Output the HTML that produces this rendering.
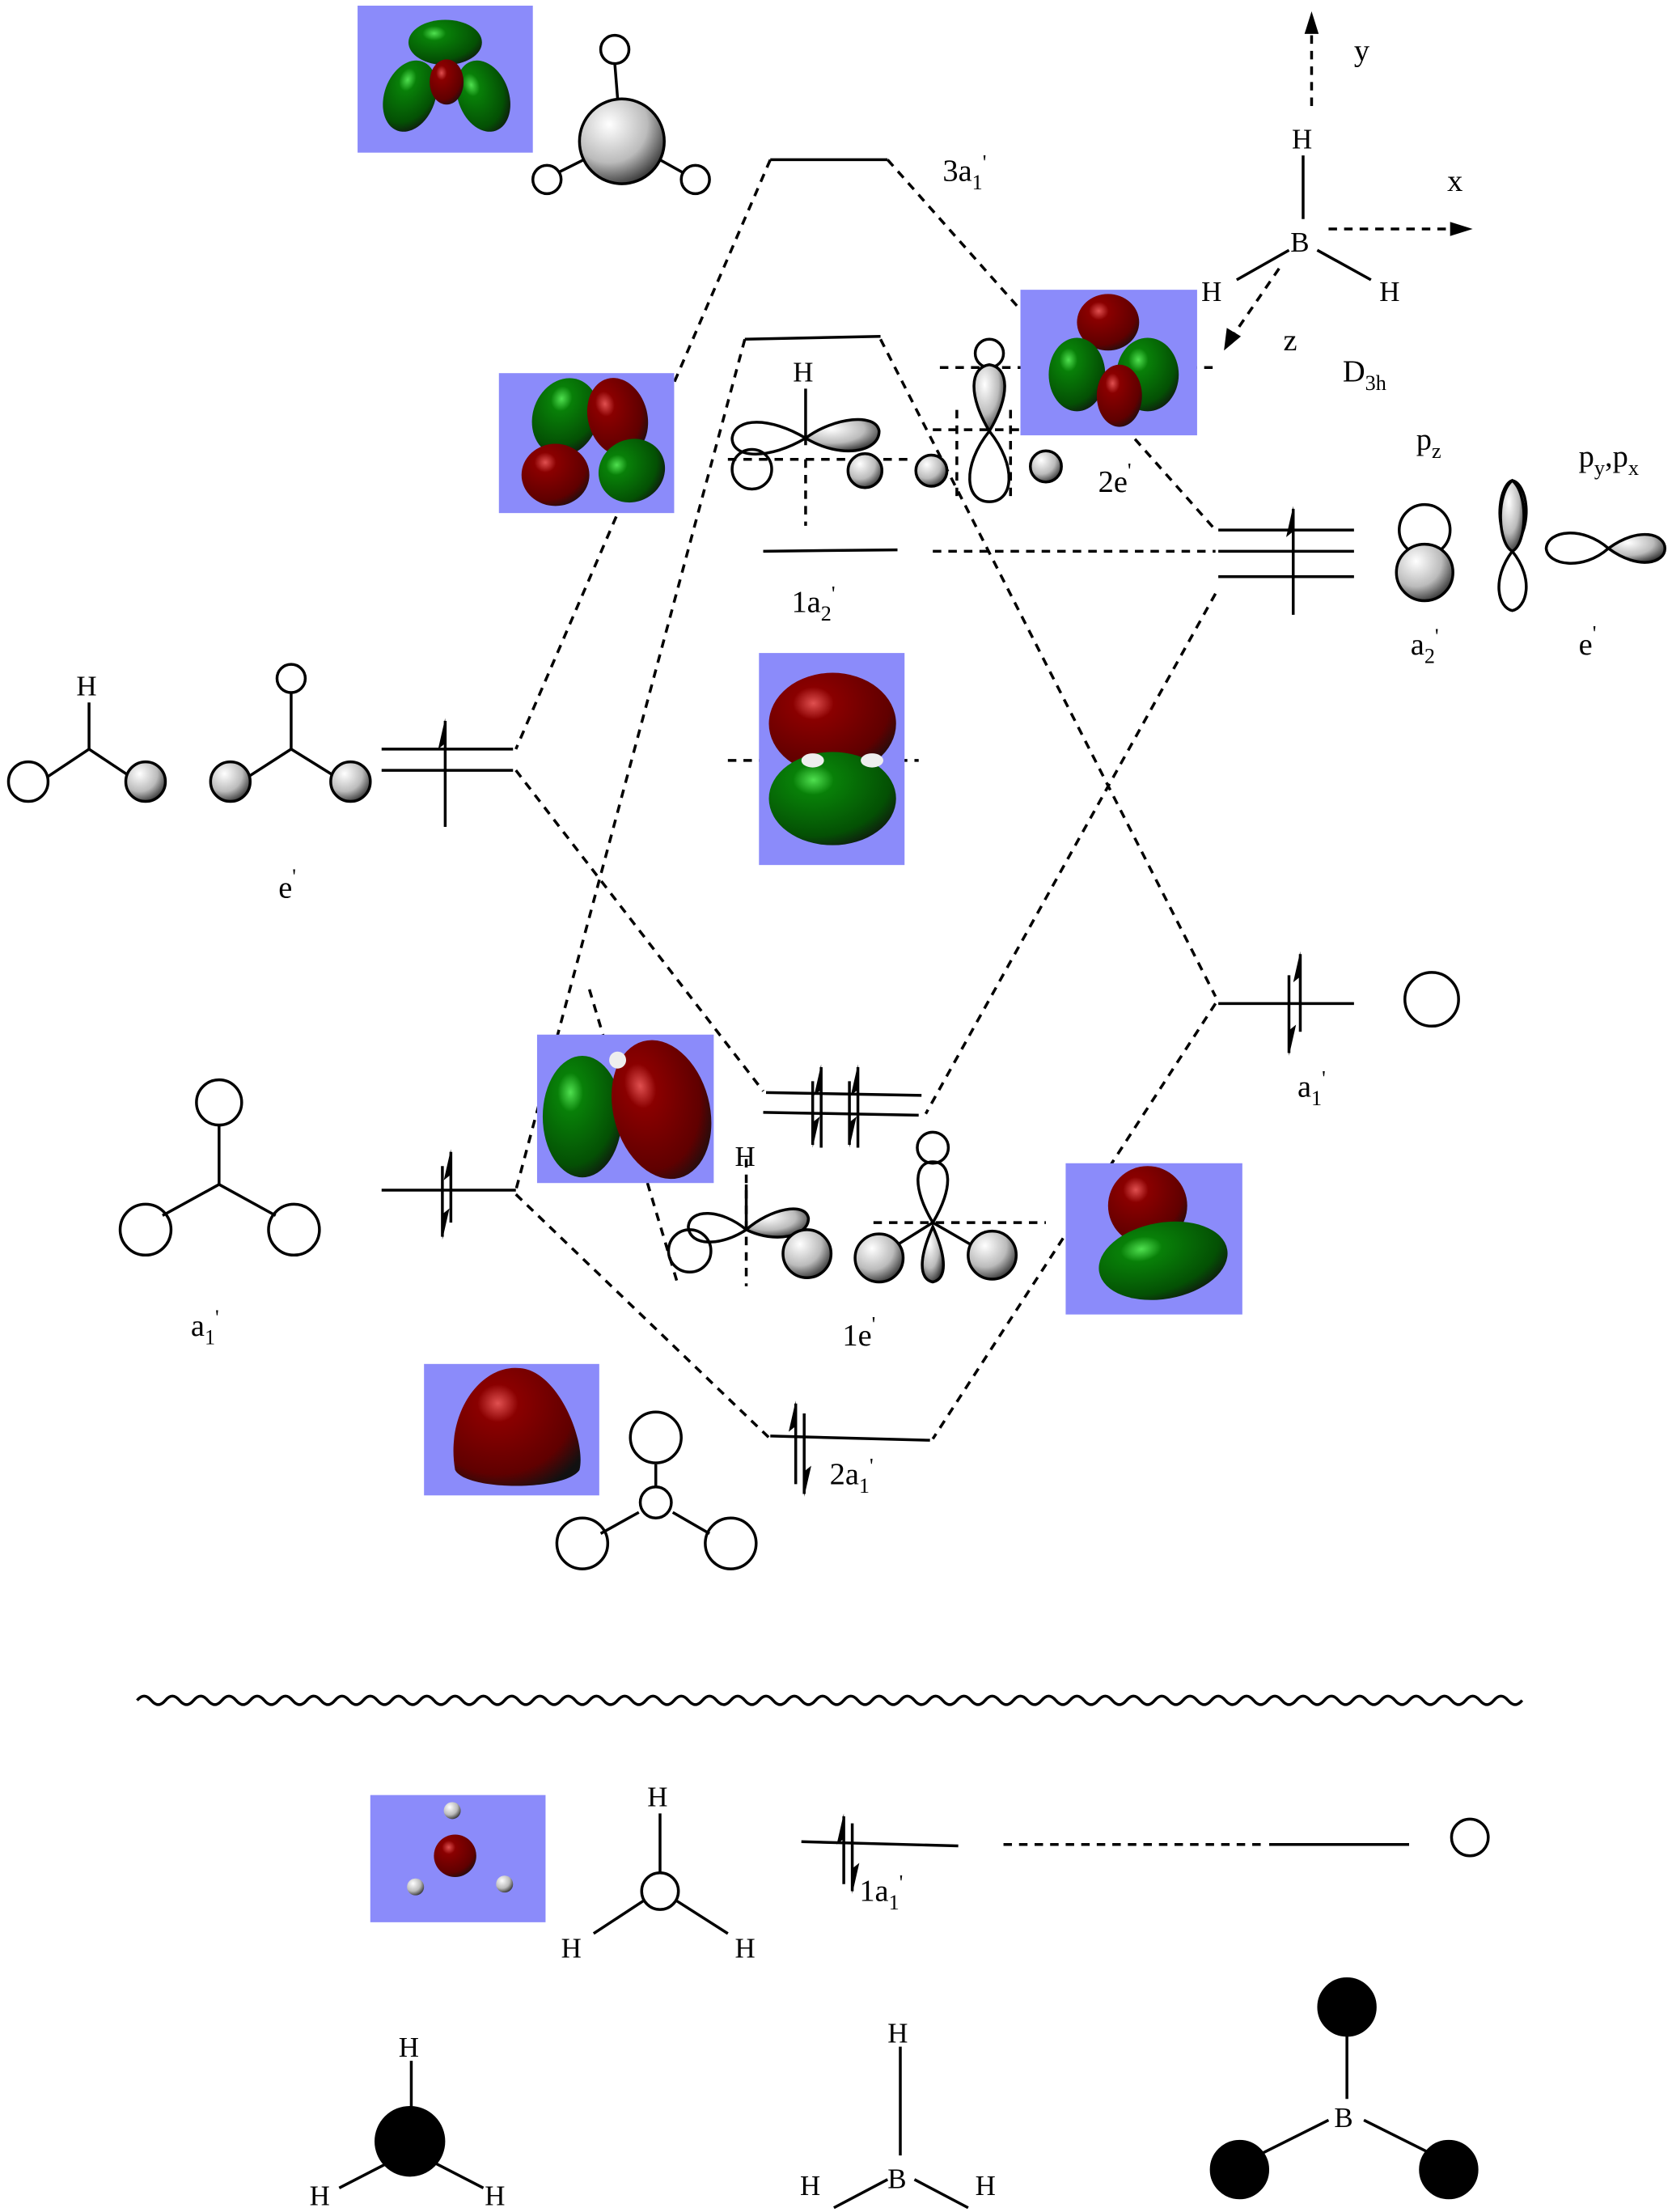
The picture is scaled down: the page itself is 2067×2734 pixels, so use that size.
<!DOCTYPE html>
<html><head><meta charset="utf-8"><style>
html,body{margin:0;padding:0;background:#fff;}
svg{display:block;}
text{font-family:"Liberation Serif",serif;fill:#000;}
.s{font-family:"Liberation Sans",sans-serif;}
</style></head><body>
<svg width="2067" height="2734" viewBox="0 0 1183 1565" preserveAspectRatio="none" xmlns="http://www.w3.org/2000/svg">
<defs>
<radialGradient id="wg" cx="0.35" cy="0.3" r="0.75"><stop offset="0" stop-color="#fff"/><stop offset="0.6" stop-color="#bbb"/><stop offset="1" stop-color="#333"/></radialGradient>
<radialGradient id="rg" cx="0.35" cy="0.3" r="0.8"><stop offset="0" stop-color="#e05050"/><stop offset="0.2" stop-color="#8a0000"/><stop offset="0.75" stop-color="#600000"/><stop offset="1" stop-color="#111"/></radialGradient>
<radialGradient id="gg" cx="0.35" cy="0.3" r="0.8"><stop offset="0" stop-color="#50e050"/><stop offset="0.2" stop-color="#088008"/><stop offset="0.75" stop-color="#045004"/><stop offset="1" stop-color="#111"/></radialGradient>
</defs>
<g fill="none" stroke="#000" stroke-width="2" stroke-dasharray="6,5">
<line x1="545" y1="113" x2="365" y2="530"/>
<line x1="628" y1="113" x2="860" y2="375"/>
<line x1="527" y1="240" x2="365" y2="842"/>
<line x1="623" y1="240" x2="860" y2="705"/>
<line x1="365" y1="545" x2="540" y2="772"/>
<line x1="860" y1="420" x2="655" y2="788"/>
<line x1="365" y1="845" x2="545" y2="1018"/>
<line x1="860" y1="710" x2="660" y2="1018"/>
<line x1="660" y1="390" x2="860" y2="390"/>
<line x1="417" y1="700" x2="480" y2="910"/>
<line x1="710" y1="1305" x2="895" y2="1305"/>
<line x1="928" y1="75" x2="928" y2="20"/>
<line x1="940" y1="162" x2="1030" y2="162"/>
<line x1="905" y1="190" x2="872" y2="238"/>
<line x1="515" y1="325" x2="645" y2="325"/>
<line x1="570" y1="325" x2="570" y2="372"/>
<line x1="665" y1="260" x2="860" y2="260"/>
<line x1="660" y1="304" x2="760" y2="304"/>
<line x1="677" y1="290" x2="677" y2="355"/>
<line x1="715" y1="290" x2="715" y2="355"/>
<line x1="515" y1="538" x2="650" y2="538"/>
<line x1="528" y1="820" x2="528" y2="910"/>
<line x1="618" y1="865" x2="740" y2="865"/>
<line x1="745" y1="232" x2="820" y2="232"/>
</g>
<g fill="#000">
<polygon points="928,8 923,24 933,24"/>
<polygon points="1042,162 1026,157 1026,167"/>
<polygon points="866,248 868,232 878,238"/>
</g>
<!-- blue boxes -->
<g fill="#8b8bfa">
<rect x="253" y="4" width="124" height="104"/>
<rect x="353" y="264" width="124" height="99"/>
<rect x="722" y="205" width="125" height="103"/>
<rect x="537" y="462" width="103" height="150"/>
<rect x="380" y="732" width="125" height="105"/>
<rect x="754" y="823" width="125" height="107"/>
<rect x="300" y="965" width="124" height="93"/>
<rect x="262" y="1270" width="124" height="90"/>
</g>
<!-- orbital blobs -->
<g>
<ellipse cx="315" cy="30" rx="26" ry="16" fill="url(#gg)"/>
<ellipse cx="290" cy="68" rx="18" ry="26" fill="url(#gg)" transform="rotate(20 290 68)"/>
<ellipse cx="342" cy="68" rx="18" ry="26" fill="url(#gg)" transform="rotate(-20 342 68)"/>
<ellipse cx="316" cy="58" rx="12" ry="16" fill="url(#rg)"/>
<ellipse cx="400" cy="295" rx="23" ry="28" fill="url(#gg)" transform="rotate(20 400 295)"/>
<ellipse cx="437" cy="295" rx="21" ry="28" fill="url(#rg)" transform="rotate(-15 437 295)"/>
<ellipse cx="393" cy="336" rx="24" ry="22" fill="url(#rg)"/>
<ellipse cx="447" cy="333" rx="24" ry="22" fill="url(#gg)" transform="rotate(-30 447 333)"/>
<ellipse cx="784" cy="228" rx="22" ry="20" fill="url(#rg)"/>
<ellipse cx="762" cy="265" rx="20" ry="26" fill="url(#gg)"/>
<ellipse cx="812" cy="265" rx="22" ry="26" fill="url(#gg)"/>
<ellipse cx="792" cy="280" rx="16" ry="22" fill="url(#rg)"/>
<ellipse cx="589" cy="512" rx="45" ry="36" fill="url(#rg)"/>
<ellipse cx="589" cy="565" rx="45" ry="33" fill="url(#gg)"/>
<ellipse cx="575" cy="538" rx="8" ry="5" fill="#eee"/><ellipse cx="617" cy="538" rx="8" ry="5" fill="#eee"/>
<ellipse cx="412" cy="790" rx="28" ry="43" fill="url(#gg)"/>
<ellipse cx="468" cy="785" rx="34" ry="50" fill="url(#rg)" transform="rotate(-15 468 785)"/>
<circle cx="437" cy="750" r="6" fill="#eee"/>
<ellipse cx="812" cy="853" rx="28" ry="28" fill="url(#rg)"/>
<ellipse cx="823" cy="892" rx="46" ry="27" fill="url(#gg)" transform="rotate(-10 823 892)"/>
<path d="M322,1040 C315,1000 340,965 368,968 C395,970 415,1020 410,1040 C400,1055 330,1055 322,1040 Z" fill="url(#rg)"/>
<circle cx="322" cy="1313" r="15" fill="url(#rg)"/>
<circle cx="320" cy="1281" r="6" fill="url(#wg)"/><circle cx="294" cy="1335" r="6" fill="url(#wg)"/><circle cx="357" cy="1333" r="6" fill="url(#wg)"/>
</g>
<g stroke="#000" stroke-width="2" fill="none">
<!-- levels -->
<line x1="545" y1="113" x2="628" y2="113"/>
<line x1="527" y1="240" x2="623" y2="238"/>
<line x1="540" y1="390" x2="635" y2="389"/>
<line x1="862" y1="375" x2="958" y2="375"/>
<line x1="862" y1="390" x2="958" y2="390"/>
<line x1="862" y1="408" x2="958" y2="408"/>
<line x1="915" y1="360" x2="915" y2="435"/>
<line x1="270" y1="530" x2="363" y2="530"/>
<line x1="270" y1="545" x2="363" y2="545"/>
<line x1="315" y1="510" x2="315" y2="585"/>
<line x1="862" y1="710" x2="958" y2="710"/>
<line x1="912" y1="690" x2="912" y2="745"/><line x1="920" y1="675" x2="920" y2="730"/>
<line x1="270" y1="842" x2="365" y2="842"/>
<line x1="313" y1="825" x2="313" y2="875"/><line x1="319" y1="815" x2="319" y2="865"/>
<line x1="542" y1="773" x2="652" y2="775"/>
<line x1="540" y1="787" x2="650" y2="789"/>
<line x1="575" y1="765" x2="575" y2="810"/><line x1="581" y1="755" x2="581" y2="812"/>
<line x1="601" y1="765" x2="601" y2="810"/><line x1="607" y1="755" x2="607" y2="812"/>
<line x1="545" y1="1016" x2="658" y2="1019"/>
<line x1="563" y1="993" x2="563" y2="1050"/><line x1="569" y1="1000" x2="569" y2="1057"/>
<line x1="567" y1="1303" x2="678" y2="1306"/>
<line x1="597" y1="1285" x2="597" y2="1333"/><line x1="603" y1="1290" x2="603" y2="1338"/>
<line x1="898" y1="1305" x2="997" y2="1305"/>
<!-- BH3 axes molecule -->
<line x1="922" y1="110" x2="922" y2="155"/>
<line x1="912" y1="177" x2="875" y2="198"/>
<line x1="932" y1="177" x2="970" y2="198"/>
<!-- top molecule -->
<line x1="435" y1="45" x2="437" y2="70"/><line x1="395" y1="122" x2="415" y2="112"/><line x1="483" y1="122" x2="465" y2="112"/>
<!-- e' left fragments -->
<line x1="33" y1="550" x2="63" y2="530"/><line x1="63" y1="530" x2="90" y2="548"/><line x1="63" y1="530" x2="63" y2="497"/>
<line x1="175" y1="550" x2="206" y2="530"/><line x1="206" y1="530" x2="235" y2="548"/><line x1="206" y1="530" x2="206" y2="490"/>
<circle cx="20" cy="553" r="14"/><circle cx="206" cy="480" r="10"/>
<!-- a1' left -->
<line x1="155" y1="795" x2="155" y2="838"/><line x1="155" y1="838" x2="115" y2="860"/><line x1="155" y1="838" x2="195" y2="860"/>
<circle cx="155" cy="780" r="16"/><circle cx="103" cy="870" r="18"/><circle cx="208" cy="870" r="18"/>
<!-- 2a1' molecule -->
<line x1="464" y1="1036" x2="464" y2="1052"/><line x1="452" y1="1070" x2="425" y2="1085"/><line x1="476" y1="1070" x2="502" y2="1085"/>
<circle cx="464" cy="1017" r="18"/><circle cx="464" cy="1063" r="11"/><circle cx="412" cy="1092" r="18"/><circle cx="517" cy="1092" r="18"/>
<!-- right AOs -->
<circle cx="1008" cy="375" r="18"/>
<circle cx="1013" cy="707" r="19"/>
<path d="M1070,390 C1055,370 1062,342 1070,340 C1080,342 1086,370 1070,390 C1055,410 1060,430 1070,432 C1080,430 1086,410 1070,390Z"/>
<path d="M1138,388 C1120,372 1095,375 1094,388 C1095,400 1120,404 1138,388Z"/>
<circle cx="1040" cy="1300" r="13"/>
<!-- 1a2' / 2e' fragment -->
<path d="M570,310 C545,295 520,295 518,310 C518,325 545,325 570,310Z"/>
<circle cx="532" cy="332" r="14"/>
<line x1="570" y1="275" x2="570" y2="315"/>
<path d="M700,305 C680,330 683,355 700,355 C717,355 720,330 700,305Z"/>
<circle cx="700" cy="250" r="10"/>
<!-- 1e' fragment -->
<path d="M528,870 C510,855 488,855 487,868 C488,882 510,882 528,870Z"/>
<circle cx="488" cy="885" r="15"/>
<line x1="528" y1="838" x2="528" y2="870"/>
<path d="M660,865 C645,840 647,822 660,822 C673,822 675,840 660,865Z"/>
<circle cx="660" cy="812" r="11"/>
<line x1="660" y1="865" x2="636" y2="880"/><line x1="660" y1="865" x2="686" y2="880"/>
<!-- bottom H3 -->
<line x1="467" y1="1283" x2="467" y2="1325"/><line x1="455" y1="1345" x2="420" y2="1368"/><line x1="479" y1="1345" x2="515" y2="1368"/>
<circle cx="467" cy="1338" r="13"/>
<!-- bottom row -->
<line x1="291" y1="1458" x2="291" y2="1500"/><line x1="275" y1="1530" x2="240" y2="1548"/><line x1="307" y1="1530" x2="342" y2="1548"/>
<line x1="637" y1="1448" x2="637" y2="1525"/><line x1="628" y1="1542" x2="590" y2="1562"/><line x1="647" y1="1542" x2="685" y2="1562"/>
<line x1="953" y1="1440" x2="953" y2="1485"/><line x1="940" y1="1500" x2="890" y2="1525"/><line x1="965" y1="1500" x2="1015" y2="1525"/>
<!-- wavy -->
<path d="M97,1203 q5,-6 10,0 t10,0 t10,0 t10,0 t10,0 t10,0 t10,0 t10,0 t10,0 t10,0 t10,0 t10,0 t10,0 t10,0 t10,0 t10,0 t10,0 t10,0 t10,0 t10,0 t10,0 t10,0 t10,0 t10,0 t10,0 t10,0 t10,0 t10,0 t10,0 t10,0 t10,0 t10,0 t10,0 t10,0 t10,0 t10,0 t10,0 t10,0 t10,0 t10,0 t10,0 t10,0 t10,0 t10,0 t10,0 t10,0 t10,0 t10,0 t10,0 t10,0 t10,0 t10,0 t10,0 t10,0 t10,0 t10,0 t10,0 t10,0 t10,0 t10,0 t10,0 t10,0 t10,0 t10,0 t10,0 t10,0 t10,0 t10,0 t10,0 t10,0 t10,0 t10,0 t10,0 t10,0 t10,0 t10,0 t10,0 t10,0 t10,0 t10,0 t10,0 t10,0 t10,0 t10,0 t10,0 t10,0 t10,0 t10,0 t10,0 t10,0 t10,0 t10,0 t10,0 t10,0 t10,0 t10,0 t10,0 t10,0"/>
</g>
<!-- shaded spheres -->
<g stroke="#000" stroke-width="2">
<circle cx="440" cy="100" r="30" fill="url(#wg)"/>
<circle cx="435" cy="35" r="10" fill="#fff"/><circle cx="387" cy="127" r="10" fill="#fff"/><circle cx="492" cy="127" r="10" fill="#fff"/>
<circle cx="103" cy="553" r="14" fill="url(#wg)"/>
<circle cx="163" cy="553" r="14" fill="url(#wg)"/><circle cx="248" cy="553" r="14" fill="url(#wg)"/>
<circle cx="1008" cy="405" r="20" fill="url(#wg)"/>
<path d="M1070,340 C1058,350 1060,385 1070,390 C1080,385 1082,350 1070,340Z" fill="url(#wg)"/>
<path d="M1138,388 C1160,372 1178,378 1178,388 C1178,398 1160,404 1138,388Z" fill="url(#wg)"/>
<path d="M570,310 C590,295 620,292 622,305 C622,320 595,325 570,310Z" fill="url(#wg)"/>
<circle cx="612" cy="333" r="12" fill="url(#wg)"/>
<circle cx="659" cy="333" r="11" fill="url(#wg)"/><circle cx="740" cy="330" r="11" fill="url(#wg)"/>
<path d="M700,305 C685,280 686,260 700,258 C714,260 715,280 700,305Z" fill="url(#wg)"/>
<path d="M528,870 C545,855 570,850 572,862 C572,875 548,880 528,870Z" fill="url(#wg)"/>
<circle cx="571" cy="887" r="17" fill="url(#wg)"/>
<circle cx="622" cy="890" r="17" fill="url(#wg)"/><circle cx="702" cy="888" r="17" fill="url(#wg)"/>
<path d="M660,868 C650,890 650,905 660,907 C670,905 670,890 660,868Z" fill="url(#wg)"/>
<circle cx="290" cy="1515" r="24" fill="#000"/>
<circle cx="953" cy="1420" r="20" fill="#000"/><circle cx="877" cy="1535" r="20" fill="#000"/><circle cx="1025" cy="1535" r="20" fill="#000"/>
</g>
<!-- arrowheads on spin lines -->
<g fill="#000">
<polygon points="915,358 910,380 915,376"/>
<polygon points="315,508 310,530 315,526"/>
<polygon points="920,673 915,695 920,691"/><polygon points="912,747 917,725 912,729"/>
<polygon points="319,813 314,835 319,831"/><polygon points="313,877 318,855 313,859"/>
<polygon points="581,753 576,775 581,771"/><polygon points="575,812 580,790 575,794"/>
<polygon points="607,753 602,775 607,771"/><polygon points="601,812 606,790 601,794"/>
<polygon points="563,991 558,1013 563,1009"/><polygon points="569,1059 574,1037 569,1041"/>
<polygon points="597,1283 592,1305 597,1301"/><polygon points="603,1340 608,1318 603,1322"/>
</g>
<!-- labels -->
<g font-size="22">
<text x="667" y="128">3a<tspan font-size="15" dy="6">1</tspan><tspan dy="-14" font-size="15">'</tspan></text>
<text x="777" y="348">2e<tspan font-size="15" dy="-10">'</tspan></text>
<text x="560" y="433">1a<tspan font-size="15" dy="6">2</tspan><tspan dy="-14" font-size="15">'</tspan></text>
<text x="197" y="635">e<tspan font-size="15" dy="-10">'</tspan></text>
<text x="135" y="945">a<tspan font-size="15" dy="6">1</tspan><tspan dy="-14" font-size="15">'</tspan></text>
<text x="596" y="952">1e<tspan font-size="15" dy="-10">'</tspan></text>
<text x="587" y="1050">2a<tspan font-size="15" dy="6">1</tspan><tspan dy="-14" font-size="15">'</tspan></text>
<text x="608" y="1345">1a<tspan font-size="15" dy="6">1</tspan><tspan dy="-14" font-size="15">'</tspan></text>
<text x="918" y="776">a<tspan font-size="15" dy="6">1</tspan><tspan dy="-14" font-size="15">'</tspan></text>
<text x="998" y="463">a<tspan font-size="15" dy="6">2</tspan><tspan dy="-14" font-size="15">'</tspan></text>
<text x="1117" y="463">e<tspan font-size="15" dy="-10">'</tspan></text>
<text x="1002" y="318">p<tspan font-size="15" dy="6">z</tspan></text>
<text x="1117" y="330">p<tspan font-size="15" dy="6">y</tspan><tspan dy="-6">,p</tspan><tspan font-size="15" dy="6">x</tspan></text>
<text x="950" y="270">D<tspan font-size="15" dy="6">3h</tspan></text>
<text x="958" y="43">y</text>
<text x="1024" y="135">x</text>
<text x="908" y="248">z</text>
</g>
<g class="s" font-size="20">
<text x="914" y="105">H</text><text x="913" y="178">B</text>
<text x="850" y="213">H</text><text x="976" y="213">H</text>
<text x="561" y="270">H</text>
<text x="54" y="492">H</text>
<text x="520" y="825">H</text>
<text x="458" y="1278">H</text><text x="397" y="1385">H</text><text x="520" y="1385">H</text>
<text x="282" y="1455">H</text><text x="219" y="1560">H</text><text x="343" y="1560">H</text>
<text x="628" y="1445">H</text><text x="628" y="1548">B</text><text x="566" y="1553">H</text><text x="690" y="1553">H</text>
<text x="944" y="1505">B</text>
</g>
</svg>
</body></html>
